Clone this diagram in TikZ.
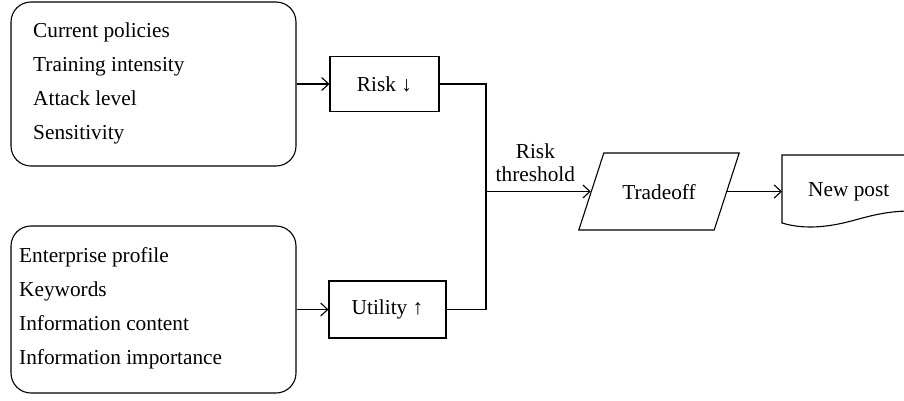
\documentclass[tikz,border=0pt]{standalone}
\usepackage{fontspec}
\setmainfont{Liberation Serif}
\usetikzlibrary{shapes.geometric,arrows.meta}

\begin{document}
\begin{tikzpicture}[x=1pt,y=-1pt,font=\fontsize{21.3}{23.5}\selectfont]

\tikzset{
  input box/.style={
    draw, line width=1.1pt,
    rounded corners=20pt,
    minimum width=285pt,
  },
  flow box/.style={
    draw, line width=1.1pt,
    inner sep=0pt,
  },
  item/.style={
    anchor=base west,
    inner sep=0pt,
  },
  flow/.style={line width=1.1pt},
  feed/.style={line width=1.1pt, -{Straight Barb[length=7pt,width=13pt]}},
}

\useasboundingbox (0,0) rectangle (904,400);
\clip (0,0) rectangle (904,400);

% Input groups
\node[input box, minimum height=164pt] (riskin) at (153.5,84) {};
\node[input box, minimum height=167pt] (utilin) at (153.5,309.5) {};

% Risk factors
\node[item] (policies) at (33,37)  {Current policies};
\node[item] (training) at (33,71)  {Training intensity};
\node[item] (attack)   at (33,105) {Attack level};
\node[item] (sens)     at (33,139) {Sensitivity};

% Utility factors
\node[item] (profile)  at (19,262) {Enterprise profile};
\node[item] (keywords) at (19,296) {Keywords};
\node[item] (content)  at (19,330) {Information content};
\node[item] (import)   at (19,364) {Information importance};

% Measures
\node[flow box, minimum width=109pt, minimum height=55pt] (risk) at (384.5,84) {Risk ↓};
\node[flow box, minimum width=117pt, minimum height=57pt] (util) at (387.5,309.5) {Utility ↑};

% Tradeoff and output
\node[trapezium, trapezium left angle=72, trapezium right angle=108,
      draw, line width=1.1pt, text height=15pt, text depth=0pt,
      inner xsep=18.5pt, inner ysep=31pt] (trade) at (659,191.5) {Tradeoff};
\node[anchor=west, inner xsep=26pt] (post) at (782,191.5) {New post};
\draw[flow] (782,155) -- (930,155) -- (930,212)
  .. controls (900,209) and (880,213) .. (855,220)
  .. controls (830,227) and (805,230) .. (782,223) -- cycle;

\coordinate (junc) at (486,191.5);

% Edges inputs -> measures
\draw[feed] (riskin.east) -- (risk.west);
\draw[feed] (utilin.east) -- (util.west);

% Edges measures -> tradeoff
\draw[flow] (risk.east) -| (junc);
\draw[flow] (util.east) -| (junc);
\draw[feed] (junc) -- node[above=5pt, align=center, inner sep=4pt, xshift=-3pt] (thresh) {Risk\\threshold} (trade);

% Edge tradeoff -> post
\draw[feed] (trade) -- (post);

\end{tikzpicture}
\end{document}
